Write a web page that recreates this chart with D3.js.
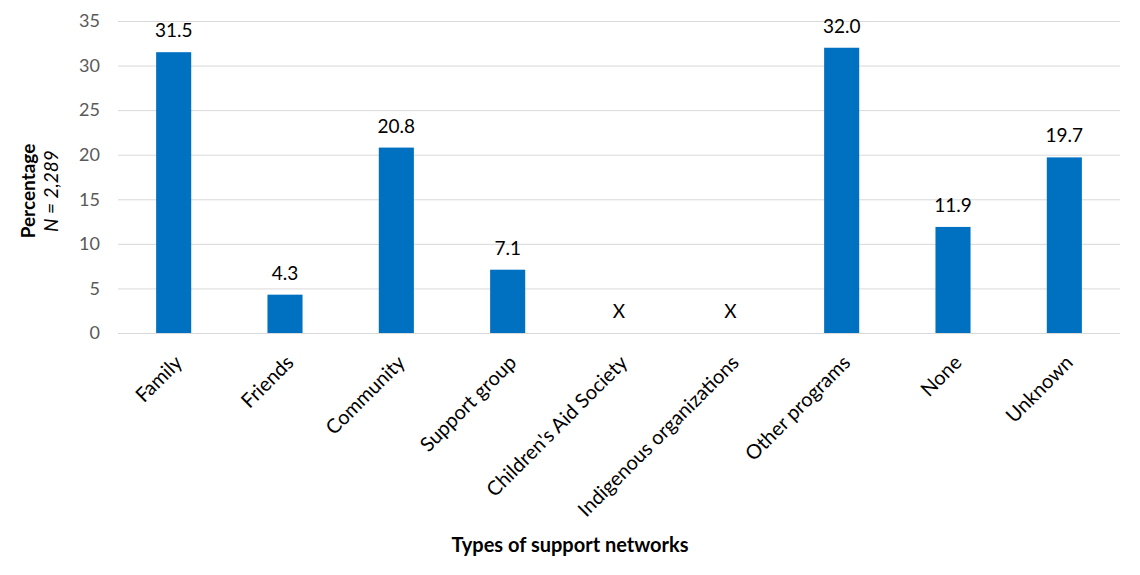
<!DOCTYPE html>
<html>
<head>
<meta charset="utf-8">
<script src="https://cdn.jsdelivr.net/npm/d3@7"></script>
<style>
  body { margin: 0; background: #fff; }
  svg { font-family: Lato, "Open Sans", sans-serif; }
  .grid line { stroke: #d9d9d9; }
  .grid .domain { display: none; }
</style>
</head>
<body>
<div class="bar__container"></div>
<script>
const categories = ["Family", "Friends", "Community", "Support group", "Children's Aid Society",
  "Indigenous organizations", "Other programs", "None", "Unknown"];
// null = suppressed value, shown as "X"
const values = [31.5, 4.3, 20.8, 7.1, null, null, 32.0, 11.9, 19.7];
const yTicks = [0, 5, 10, 15, 20, 25, 30, 35];

const width = 1140, height = 575;
const margin = { top: 21, right: 20, bottom: 242, left: 118 };
const innerW = width - margin.left - margin.right;
const innerH = height - margin.top - margin.bottom;

const svg = d3.select(".bar__container")
  .append("svg")
  .attr("width", width)
  .attr("height", height);

const g = svg.append("g")
  .attr("transform", `translate(${margin.left},${margin.top})`);

// excel style: bar centred in its category slot
const x = d3.scaleBand().domain(categories).range([0, innerW])
  .paddingInner(0.685).paddingOuter(0.685 / 2);
const y = d3.scaleLinear().domain([0, 35]).range([innerH, 0]);

// gridlines
g.append("g")
  .attr("class", "grid")
  .call(d3.axisLeft(y).tickValues(yTicks).tickSize(-innerW).tickFormat(""));

// y tick labels
g.append("g")
  .selectAll("text")
  .data(yTicks)
  .join("text")
  .attr("x", -18)
  .attr("y", d => y(d))
  .attr("dy", "0.35em")
  .attr("text-anchor", "end")
  .attr("fill", "#595959")
  .attr("font-size", 18)
  .text(d => d);

// bars
const data = categories.map((c, i) => ({ cat: c, value: values[i] }));

g.append("g")
  .selectAll("rect")
  .data(data.filter(d => d.value != null))
  .join("rect")
  .attr("x", d => x(d.cat))
  .attr("y", d => y(d.value))
  .attr("width", x.bandwidth())
  .attr("height", d => innerH - y(d.value))
  .attr("fill", "#0070c0");

// value labels
g.append("g")
  .selectAll("text")
  .data(data)
  .join("text")
  .attr("x", d => x(d.cat) + x.bandwidth() / 2)
  .attr("y", d => y(d.value == null ? 0 : d.value) - 15)
  .attr("text-anchor", "middle")
  .attr("fill", "#000")
  .attr("font-size", 19)
  .text(d => d.value == null ? "X" : d.value.toFixed(1));

// category labels, rotated
g.append("g")
  .selectAll("text")
  .data(categories)
  .join("text")
  .attr("transform", d => `translate(${x(d) + x.bandwidth() / 2},${innerH + 21}) rotate(-45)`)
  .attr("text-anchor", "end")
  .attr("dy", "0.7em")
  .attr("fill", "#000")
  .attr("font-size", 20)
  .text(d => d);

// axis titles
svg.append("text")
  .attr("x", width / 2)
  .attr("y", 552)
  .attr("text-anchor", "middle")
  .attr("font-weight", "bold")
  .attr("font-size", 20)
  .text("Types of support networks");

const yTitle = svg.append("text")
  .attr("transform", `translate(35,${margin.top + innerH / 2 + 14}) rotate(-90)`)
  .attr("text-anchor", "middle")
  .attr("font-size", 19);

yTitle.append("tspan")
  .attr("x", 0)
  .attr("font-weight", "bold")
  .text("Percentage");

yTitle.append("tspan")
  .attr("x", 0)
  .attr("dy", "1.2em")
  .attr("font-style", "italic")
  .text("N");

yTitle.append("tspan")
  .attr("font-style", "italic")
  .text(" = 2,289");
</script>
</body>
</html>
